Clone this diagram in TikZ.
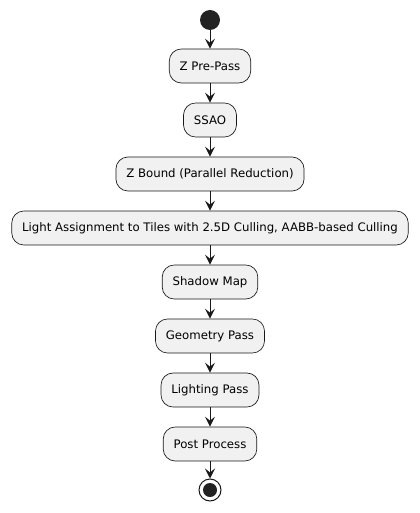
\documentclass[tikz,border=0pt]{standalone}
\usepackage{fontspec}
\setmainfont{DejaVu Sans}
\usetikzlibrary{arrows.meta}
\definecolor{boxfill}{HTML}{F1F1F1}
\definecolor{linec}{HTML}{181818}
\definecolor{dotc}{HTML}{222222}
\begin{document}
\begin{tikzpicture}[x=0.75pt,y=-0.75pt,
  act/.style={draw=linec,fill=boxfill,line width=0.5pt,rounded corners=9pt,minimum height=25.5pt,inner xsep=7.8pt,font=\fontsize{8.8pt}{11pt}\selectfont},
  flow/.style={draw=linec,line width=0.75pt,-{Stealth[length=7.5pt,width=7.5pt,inset=3pt]}}]
\useasboundingbox (0,0) rectangle (420,513);
\node[circle,fill=dotc,minimum size=15pt,inner sep=0pt] (start) at (210,20) {};
\node[act] (a1) at (210,66) {Z Pre-Pass};
\node[act] (a2) at (210,120) {SSAO};
\node[act] (a3) at (210,174) {Z Bound (Parallel Reduction)};
\node[act] (a4) at (210,228) {Light Assignment to Tiles with 2.5D Culling, AABB-based Culling};
\node[act] (a5) at (210,282) {Shadow Map};
\node[act] (a6) at (210,336) {Geometry Pass};
\node[act] (a7) at (210,390) {Lighting Pass};
\node[act] (a8) at (210,444) {Post Process};
\node[circle,draw=linec,line width=0.75pt,fill=white,minimum size=16.5pt,inner sep=0pt] (end) at (210,490) {};
\node[circle,fill=dotc,minimum size=10.5pt,inner sep=0pt] at (end) {};
\draw[flow] (start) -- (a1);
\draw[flow] (a1) -- (a2);
\draw[flow] (a2) -- (a3);
\draw[flow] (a3) -- (a4);
\draw[flow] (a4) -- (a5);
\draw[flow] (a5) -- (a6);
\draw[flow] (a6) -- (a7);
\draw[flow] (a7) -- (a8);
\draw[flow] (a8) -- (end);
\end{tikzpicture}
\end{document}
